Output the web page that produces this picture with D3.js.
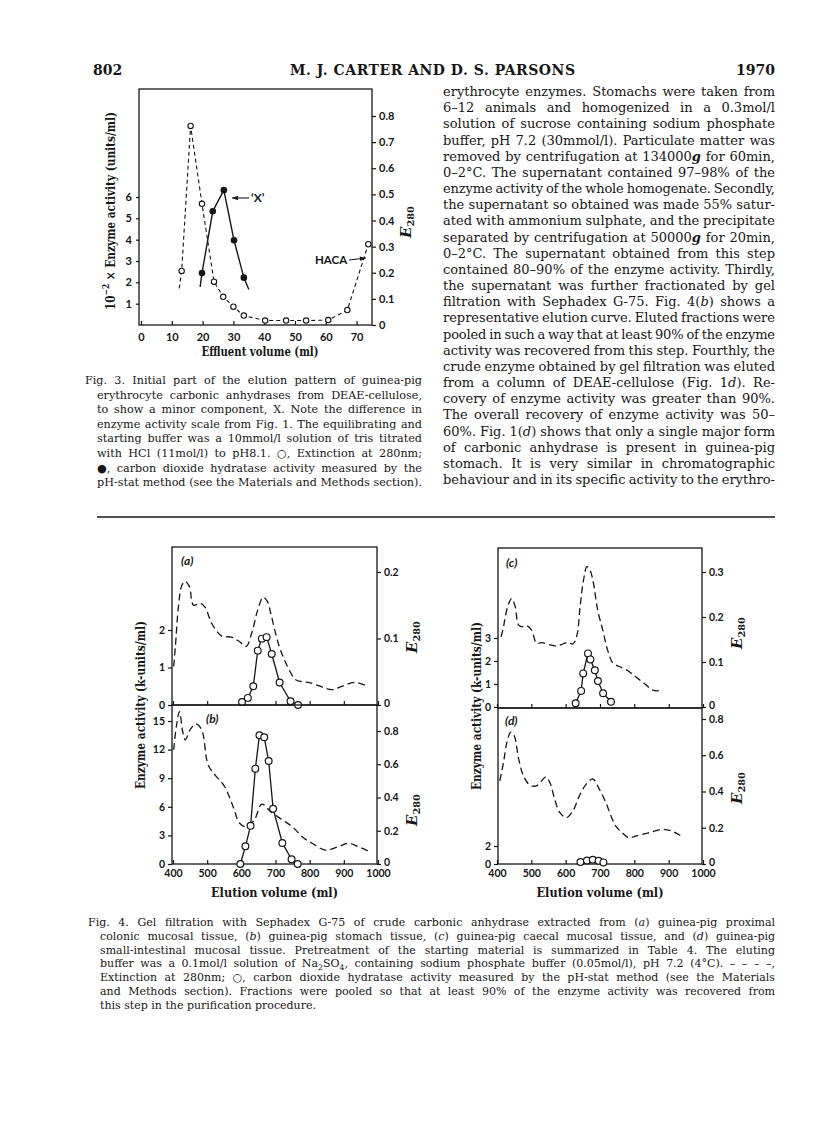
<!DOCTYPE html>
<html>
<head>
<meta charset="utf-8">
<script src="https://cdn.jsdelivr.net/npm/d3@7"></script>
<style>
  body { margin: 0; background: #fff; }
  svg { display: block; }
</style>
</head>
<body>
<svg id="page" width="816" height="1136"></svg>
<script>
// ---- Fig. 3 data (effluent volume in ml) ----
const fig3Vol = [12.4, 13.2, 16.1, 19.8, 23.7, 26.7, 30.0, 33.4, 40.3, 47.1, 53.6, 60.8, 67.0, 73.8];
const fig3Ext = [0.14, 0.207, 0.762, 0.464, 0.166, 0.108, 0.07, 0.036, 0.017, 0.017, 0.017, 0.019, 0.057, 0.309];
const fig3ExtMark = [0, 1, 1, 1, 1, 1, 1, 1, 1, 1, 1, 1, 1, 1];
const fig3ActVol = [19.2, 19.8, 23.3, 26.9, 30.2, 33.4, 35.0];
const fig3Act = [1.78, 2.44, 5.33, 6.32, 3.97, 2.22, 1.66];
const fig3ActMark = [0, 1, 1, 1, 1, 1, 0];
const fig3XTicks = [0, 10, 20, 30, 40, 50, 60, 70];
const fig3ActTicks = [1, 2, 3, 4, 5, 6];
const fig3ExtTicks = [0, 0.1, 0.2, 0.3, 0.4, 0.5, 0.6, 0.7, 0.8];

// ---- Fig. 4 data (elution volume in ml) ----
const volAExt = [402, 407, 416, 426, 436, 448, 460, 479, 494, 513, 542, 571, 595, 614, 633, 648, 664, 677, 686, 711, 735, 759, 778, 797, 826, 865, 894, 932, 971];
const extA = [0.058, 0.088, 0.148, 0.18, 0.186, 0.178, 0.150, 0.153, 0.147, 0.123, 0.104, 0.102, 0.095, 0.088, 0.113, 0.143, 0.162, 0.155, 0.138, 0.088, 0.058, 0.038, 0.035, 0.034, 0.029, 0.023, 0.028, 0.034, 0.028];
const volAAct = [602, 619, 635, 648, 660, 674, 689, 712, 744, 766];
const actA = [0.08, 0.19, 0.5, 1.45, 1.77, 1.81, 1.36, 0.6, 0.1, 0];

const volBExt = [402, 410, 419, 428, 436, 450, 467, 484, 503, 527, 551, 576, 595, 614, 638, 660, 686, 720, 749, 778, 807, 846, 884, 913, 942, 976];
const extB = [0.687, 0.83, 0.917, 0.8, 0.747, 0.807, 0.843, 0.807, 0.596, 0.526, 0.466, 0.345, 0.245, 0.225, 0.265, 0.36, 0.315, 0.265, 0.225, 0.164, 0.125, 0.084, 0.104, 0.125, 0.104, 0.074];
const volBAct = [597, 612, 627, 641, 653, 667, 680, 693, 720, 747, 765];
const actB = [0, 1.85, 4.0, 10, 13.5, 13.3, 10.8, 5.8, 2.2, 0.5, 0];

const volCExt = [412, 419, 424, 434, 443, 453, 463, 477, 488, 501, 515, 530, 554, 573, 592, 607, 621, 633, 642, 652, 662, 671, 681, 693, 708, 722, 738, 756, 780, 804, 828, 852, 867, 881];
const extC = [0.156, 0.178, 0.2, 0.23, 0.241, 0.223, 0.182, 0.178, 0.18, 0.171, 0.142, 0.143, 0.138, 0.136, 0.14, 0.144, 0.14, 0.16, 0.223, 0.282, 0.312, 0.304, 0.275, 0.216, 0.171, 0.127, 0.097, 0.09, 0.081, 0.067, 0.053, 0.038, 0.036, 0.042];
const volCAct = [629, 645, 651, 665, 672, 685, 694, 709, 732];
const actC = [0.16, 0.7, 1.46, 2.33, 2.07, 1.6, 1.13, 0.6, 0.23];

const volDExt = [408, 419, 429, 440, 450, 463, 477, 496, 515, 530, 542, 554, 568, 583, 602, 621, 640, 660, 679, 698, 717, 732, 746, 765, 785, 804, 842, 881, 910, 934];
const extD = [0.459, 0.561, 0.672, 0.728, 0.709, 0.58, 0.487, 0.435, 0.431, 0.459, 0.481, 0.45, 0.357, 0.283, 0.256, 0.293, 0.376, 0.441, 0.469, 0.413, 0.339, 0.265, 0.209, 0.172, 0.144, 0.154, 0.172, 0.191, 0.181, 0.157];
const volDAct = [643, 662, 679, 696, 710];
const actD = [0.21, 0.39, 0.47, 0.36, 0.18];

const elutionTicks = [400, 500, 600, 700, 800, 900, 1000];

// ---- page text ----
const rightColumn = [
  "erythrocyte enzymes. Stomachs were taken from",
  "6–12 animals and homogenized in a 0.3mol/l",
  "solution of sucrose containing sodium phosphate",
  "buffer, pH 7.2 (30mmol/l). Particulate matter was",
  "removed by centrifugation at 134000#g# for 60min,",
  "0–2°C. The supernatant contained 97–98% of the",
  "enzyme activity of the whole homogenate. Secondly,",
  "the supernatant so obtained was made 55% satur-",
  "ated with ammonium sulphate, and the precipitate",
  "separated by centrifugation at 50000#g# for 20min,",
  "0–2°C. The supernatant obtained from this step",
  "contained 80–90% of the enzyme activity. Thirdly,",
  "the supernatant was further fractionated by gel",
  "filtration with Sephadex G-75. Fig. 4(*b*) shows a",
  "representative elution curve. Eluted fractions were",
  "pooled in such a way that at least 90% of the enzyme",
  "activity was recovered from this step. Fourthly, the",
  "crude enzyme obtained by gel filtration was eluted",
  "from a column of DEAE-cellulose (Fig. 1*d*). Re-",
  "covery of enzyme activity was greater than 90%.",
  "The overall recovery of enzyme activity was 50–",
  "60%. Fig. 1(*d*) shows that only a single major form",
  "of carbonic anhydrase is present in guinea-pig",
  "stomach. It is very similar in chromatographic",
  "behaviour and in its specific activity to the erythro-"
];
const fig3Caption = [
  "Fig. 3. Initial part of the elution pattern of guinea-pig",
  "erythrocyte carbonic anhydrases from DEAE-cellulose,",
  "to show a minor component, X. Note the difference in",
  "enzyme activity scale from Fig. 1. The equilibrating and",
  "starting buffer was a 10mmol/l solution of tris titrated",
  "with HCl (11mol/l) to pH8.1. ○, Extinction at 280nm;",
  "●, carbon dioxide hydratase activity measured by the",
  "pH-stat method (see the Materials and Methods section)."
];
const fig4Caption = [
  "Fig. 4. Gel filtration with Sephadex G-75 of crude carbonic anhydrase extracted from (*a*) guinea-pig proximal",
  "colonic mucosal tissue, (*b*) guinea-pig stomach tissue, (*c*) guinea-pig caecal mucosal tissue, and (*d*) guinea-pig",
  "small-intestinal mucosal tissue. Pretreatment of the starting material is summarized in Table 4. The eluting",
  "buffer was a 0.1mol/l solution of Na~2~SO~4~, containing sodium phosphate buffer (0.05mol/l), pH 7.2 (4°C). – – – –,",
  "Extinction at 280nm; ○, carbon dioxide hydratase activity measured by the pH-stat method (see the Materials",
  "and Methods section). Fractions were pooled so that at least 90% of the enzyme activity was recovered from",
  "this step in the purification procedure."
];

const svg = d3.select("#page");
const ink = "#161616";
const serif = "'DejaVu Serif', serif";
const sans = "Lato, 'DejaVu Sans', sans-serif";

// *italic*  #bold italic#  ^super^  ~sub~
function rich(sel, str) {
  const st = { i: false, b: false, sup: false, sub: false };
  let buf = "";
  let shifted = 0;
  const flush = () => {
    if (!buf) return;
    const t = sel.append("tspan").text(buf);
    if (st.i) t.attr("font-style", "italic");
    if (st.b) t.attr("font-style", "italic").attr("font-weight", "bold");
    const want = st.sup ? -4 : st.sub ? 3 : 0;
    if (want !== shifted) { t.attr("dy", want - shifted); shifted = want; }
    if (st.sup || st.sub) t.attr("font-size", "70%");
    buf = "";
  };
  for (const ch of str) {
    if (ch === "*") { flush(); st.i = !st.i; }
    else if (ch === "#") { flush(); st.b = !st.b; }
    else if (ch === "^") { flush(); st.sup = !st.sup; }
    else if (ch === "~") { flush(); st.sub = !st.sub; }
    else buf += ch;
  }
  flush();
  return sel;
}

function justify(t, width) {
  const node = t.node();
  const len = node.getComputedTextLength();
  const txt = node.textContent;
  const spaces = (txt.match(/ /g) || []).length;
  if (!spaces) return;
  let ws = (width - len) / spaces;
  let ls = 0;
  if (ws < -1) {
    ws = -1;
    ls = (width - len + spaces) / (txt.length - 1);
  }
  t.attr("word-spacing", ws).attr("letter-spacing", ls);
}

function paragraph(lines, opts) {
  lines.forEach((line, i) => {
    const x = i === 0 ? opts.x0 : opts.x;
    const t = svg.append("text")
      .attr("x", x)
      .attr("y", opts.y + i * opts.lh)
      .attr("font-family", opts.font)
      .attr("font-size", opts.size)
      .attr("fill", ink);
    rich(t, line);
    if (!(opts.lastRagged && i === lines.length - 1)) justify(t, opts.right - x);
  });
}

// ---- running head ----
svg.append("text").attr("x", 93).attr("y", 75)
  .attr("font-family", serif).attr("font-size", 14).attr("font-weight", "bold")
  .attr("fill", ink).text("802");
svg.append("text").attr("x", 290).attr("y", 75)
  .attr("font-family", serif).attr("font-size", 14).attr("font-weight", "bold")
  .attr("fill", ink).attr("textLength", 285).attr("lengthAdjust", "spacing")
  .text("M. J. CARTER AND D. S. PARSONS");
svg.append("text").attr("x", 775).attr("y", 75)
  .attr("font-family", serif).attr("font-size", 14).attr("font-weight", "bold")
  .attr("text-anchor", "end").attr("fill", ink).text("1970");

paragraph(rightColumn, { x0: 443, x: 443, right: 775, y: 96, lh: 16.17, font: serif, size: 13 });
paragraph(fig3Caption, { x0: 85, x: 97, right: 422, y: 384, lh: 14.6, font: serif, size: 11.2 });
paragraph(fig4Caption, { x0: 88, x: 100, right: 775, y: 926, lh: 13.8, font: serif, size: 11, lastRagged: true });

svg.append("line").attr("x1", 97).attr("x2", 775).attr("y1", 517).attr("y2", 517)
  .attr("stroke", ink).attr("stroke-width", 1.3);

function styleAxis(g, size) {
  g.select(".domain").remove();
  g.selectAll("line").attr("stroke", ink).attr("stroke-width", 1.2);
  g.selectAll("text").attr("font-family", sans).attr("font-weight", "bold")
    .attr("font-size", size).attr("fill", ink);
}
const fmtE = d => d === 0 ? "0" : d3.format(".1f")(d);
const fmtInt = d3.format("d");

function eLabel(x, y, size) {
  const t = svg.append("text")
    .attr("transform", `translate(${x},${y}) rotate(-90)`)
    .attr("text-anchor", "middle").attr("dominant-baseline", "central")
    .attr("font-family", serif).attr("font-weight", "bold").attr("fill", ink)
    .attr("font-size", size);
  t.append("tspan").attr("font-style", "italic").text("E");
  t.append("tspan").attr("dy", 4).attr("font-size", "65%").text("280");
}

// ================= Fig. 3 =================
const f3 = { left: 139, right: 372, top: 89, bottom: 325 };
const x3 = d3.scaleLinear().domain([0, 75]).range([141, 372]);
const yA3 = d3.scaleLinear().domain([0, 6]).range([325, 197]);
const yE3 = d3.scaleLinear().domain([0, 0.8]).range([325, 116]);

svg.append("rect")
  .attr("x", f3.left).attr("y", f3.top)
  .attr("width", f3.right - f3.left).attr("height", f3.bottom - f3.top)
  .attr("fill", "none").attr("stroke", ink).attr("stroke-width", 1.3);

svg.append("g").attr("transform", `translate(0,${f3.bottom})`)
  .call(d3.axisBottom(x3).tickValues(fig3XTicks).tickSize(-4).tickPadding(8).tickFormat(fmtInt))
  .call(g => styleAxis(g, 11));
svg.append("g").attr("transform", `translate(${f3.left},0)`)
  .call(d3.axisLeft(yA3).tickValues(fig3ActTicks).tickSize(3).tickPadding(4).tickFormat(fmtInt))
  .call(g => styleAxis(g, 11));
svg.append("g").attr("transform", `translate(${f3.right},0)`)
  .call(d3.axisRight(yE3).tickValues(fig3ExtTicks).tickSize(4).tickPadding(3).tickFormat(fmtE))
  .call(g => styleAxis(g, 11));

const ext3 = fig3Vol.map((v, i) => ({ v, e: fig3Ext[i], m: fig3ExtMark[i] }));
const act3 = fig3ActVol.map((v, i) => ({ v, a: fig3Act[i], m: fig3ActMark[i] }));

svg.append("path").datum(ext3)
  .attr("d", d3.line().x(d => x3(d.v)).y(d => yE3(d.e)))
  .attr("fill", "none").attr("stroke", ink).attr("stroke-width", 1.1)
  .attr("stroke-dasharray", "4,3");
svg.append("path").datum(act3)
  .attr("d", d3.line().x(d => x3(d.v)).y(d => yA3(d.a)))
  .attr("fill", "none").attr("stroke", ink).attr("stroke-width", 1.4);
svg.append("g").selectAll("circle").data(ext3.filter(d => d.m)).join("circle")
  .attr("cx", d => x3(d.v)).attr("cy", d => yE3(d.e)).attr("r", 2.7)
  .attr("fill", "#fff").attr("stroke", ink).attr("stroke-width", 1.1);
svg.append("g").selectAll("circle").data(act3.filter(d => d.m)).join("circle")
  .attr("cx", d => x3(d.v)).attr("cy", d => yA3(d.a)).attr("r", 3.3)
  .attr("fill", ink);

// annotations
function arrow(x1, y1, x2, y2) {
  svg.append("line").attr("x1", x1).attr("y1", y1).attr("x2", x2).attr("y2", y2)
    .attr("stroke", ink).attr("stroke-width", 1.1);
  const a = Math.atan2(y2 - y1, x2 - x1), L = 6, W = 2.3;
  const p = [[x2, y2],
    [x2 - L * Math.cos(a) + W * Math.sin(a), y2 - L * Math.sin(a) - W * Math.cos(a)],
    [x2 - L * Math.cos(a) - W * Math.sin(a), y2 - L * Math.sin(a) + W * Math.cos(a)]];
  svg.append("path").attr("d", "M" + p.join("L") + "Z").attr("fill", ink);
}
arrow(249, 198, 232, 198);
svg.append("text").attr("x", 251).attr("y", 202).attr("font-family", sans)
  .attr("font-size", 12).attr("font-weight", "bold").attr("fill", ink).text("‘X’");
svg.append("text").attr("x", 315).attr("y", 264).attr("font-family", sans)
  .attr("font-size", 11.5).attr("font-weight", "bold").attr("fill", ink).text("HACA");
arrow(349, 260, 366, 258);

svg.append("text")
  .attr("transform", `translate(110,211) rotate(-90)`)
  .attr("text-anchor", "middle").attr("dominant-baseline", "central")
  .attr("font-family", serif).attr("font-weight", "bold").attr("font-size", 12.5)
  .attr("fill", ink).attr("textLength", 198).attr("lengthAdjust", "spacingAndGlyphs")
  .call(t => rich(t, "10^−2^ × Enzyme activity (units/ml)"));
eLabel(406, 222, 15);
svg.append("text").attr("x", 260).attr("y", 356).attr("text-anchor", "middle")
  .attr("font-family", serif).attr("font-weight", "bold").attr("font-size", 12.5)
  .attr("fill", ink).attr("textLength", 117).attr("lengthAdjust", "spacingAndGlyphs")
  .text("Effluent volume (ml)");

// ================= Fig. 4 =================
const xLeft = d3.scaleLinear().domain([400, 1000]).range([173, 378]);
const xRight = d3.scaleLinear().domain([400, 1000]).range([497, 703]);

const panels = [
  { tag: "a", xs: xLeft, box: [172, 377, 547, 705], vE: volAExt, e: extA, vA: volAAct, a: actA,
    actDom: [0, 2], actRange: [705, 630], actTicks: [0, 1, 2],
    eDom: [0, 0.2], eRange: [705, 572], eTicks: [0, 0.1, 0.2],
    xLabels: false, tagPos: [181, 565], eLab: [412, 637] },
  { tag: "b", xs: xLeft, box: [172, 377, 705, 864], vE: volBExt, e: extB, vA: volBAct, a: actB,
    actDom: [0, 15], actRange: [864, 721], actTicks: [0, 3, 6, 9, 12, 15],
    eDom: [0, 0.8], eRange: [864, 731], eTicks: [0, 0.2, 0.4, 0.6, 0.8],
    xLabels: true, tagPos: [206, 723], eLab: [412, 810] },
  { tag: "c", xs: xRight, box: [498, 702, 548, 708], vE: volCExt, e: extC, vA: volCAct, a: actC,
    actDom: [0, 3], actRange: [707, 638], actTicks: [0, 1, 2, 3],
    eDom: [0, 0.3], eRange: [707, 572], eTicks: [0, 0.1, 0.2, 0.3],
    xLabels: false, tagPos: [506, 567], eLab: [737, 633] },
  { tag: "d", xs: xRight, box: [498, 702, 708, 864], vE: volDExt, e: extD, vA: volDAct, a: actD,
    actDom: [0, 2], actRange: [864, 846], actTicks: [0, 2],
    eDom: [0, 0.8], eRange: [864, 719], eTicks: [0, 0.2, 0.4, 0.6, 0.8],
    xLabels: true, tagPos: [505, 725], eLab: [737, 788] }
];

panels.forEach(p => {
  const [l, r, t, b] = p.box;
  const yA = d3.scaleLinear().domain(p.actDom).range(p.actRange);
  const yE = d3.scaleLinear().domain(p.eDom).range(p.eRange);
  const g = svg.append("g");

  g.append("rect").attr("x", l).attr("y", t).attr("width", r - l).attr("height", b - t)
    .attr("fill", "none").attr("stroke", ink).attr("stroke-width", 1.3);

  g.append("g").attr("transform", `translate(0,${b})`)
    .call(d3.axisBottom(p.xs).tickValues(elutionTicks).tickSize(-4).tickPadding(6)
      .tickFormat(p.xLabels ? fmtInt : () => ""))
    .call(s => styleAxis(s, 10.5));
  g.append("g").attr("transform", `translate(${l},0)`)
    .call(d3.axisLeft(yA).tickValues(p.actTicks).tickSize(4).tickPadding(3).tickFormat(fmtInt))
    .call(s => styleAxis(s, 10.5));
  g.append("g").attr("transform", `translate(${r},0)`)
    .call(d3.axisRight(yE).tickValues(p.eTicks).tickSize(4).tickPadding(3).tickFormat(fmtE))
    .call(s => styleAxis(s, 10.5))
    .call(s => s.selectAll(".tick text").filter(d => d === 0).attr("dy", "0.1em"));

  const ext = p.vE.map((v, i) => [p.xs(v), yE(p.e[i])]);
  g.append("path").attr("d", d3.line().curve(d3.curveCatmullRom.alpha(0.5))(ext))
    .attr("fill", "none").attr("stroke", ink).attr("stroke-width", 1.3)
    .attr("stroke-dasharray", "7,4");

  const act = p.vA.map((v, i) => [p.xs(v), yA(p.a[i])]);
  g.append("path").attr("d", d3.line()(act))
    .attr("fill", "none").attr("stroke", ink).attr("stroke-width", 1.3);
  g.append("g").selectAll("circle").data(act).join("circle")
    .attr("cx", d => d[0]).attr("cy", d => d[1]).attr("r", 3.4)
    .attr("fill", "#fff").attr("stroke", ink).attr("stroke-width", 1.2);

  g.append("text").attr("x", p.tagPos[0]).attr("y", p.tagPos[1])
    .attr("font-family", sans).attr("font-style", "italic").attr("font-weight", "bold")
    .attr("font-size", 12).attr("fill", ink).text(`(${p.tag})`);
  eLabel(p.eLab[0], p.eLab[1], 15);
});

[[140, 705], [476, 706]].forEach(([x, y]) => {
  svg.append("text")
    .attr("transform", `translate(${x},${y}) rotate(-90)`)
    .attr("text-anchor", "middle").attr("dominant-baseline", "central")
    .attr("font-family", serif).attr("font-weight", "bold").attr("font-size", 12.5)
    .attr("fill", ink).attr("textLength", 168).attr("lengthAdjust", "spacingAndGlyphs")
    .text("Enzyme activity (k-units/ml)");
});
[274.5, 600].forEach(x => {
  svg.append("text").attr("x", x).attr("y", 897).attr("text-anchor", "middle")
    .attr("font-family", serif).attr("font-weight", "bold").attr("font-size", 12.5)
    .attr("fill", ink).attr("textLength", 127).attr("lengthAdjust", "spacingAndGlyphs")
    .text("Elution volume (ml)");
});
</script>
</body>
</html>
